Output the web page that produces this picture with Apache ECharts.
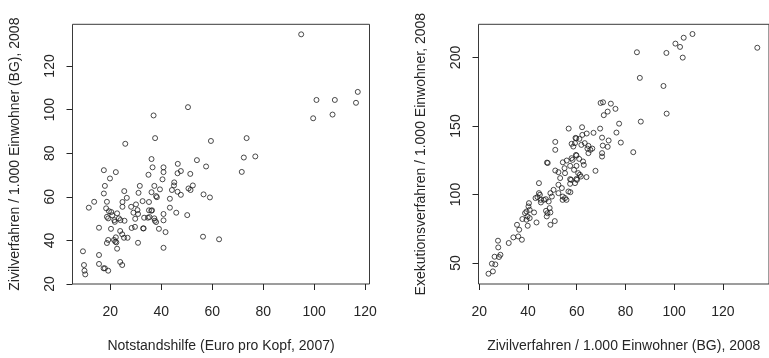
<!DOCTYPE html>
<html>
<head>
<meta charset="utf-8">
<script src="https://cdn.jsdelivr.net/npm/echarts@6/dist/echarts.min.js"></script>
<style>
  html, body { margin: 0; padding: 0; background: #ffffff; }
  #chart { width: 769px; height: 358px; }
</style>
</head>
<body>
<div id="chart"></div>
<script>
// Left panel: Notstandshilfe (Euro pro Kopf, 2007) vs. Zivilverfahren / 1.000 Einwohner (BG), 2008
const notstandshilfe = [94.9,37.0,50.5,25.9,37.6,59.5,73.5,100.9,108.1,117.1,
  116.4,99.6,107.2,72.4,76.9,71.6,36.2,36.6,40.9,40.9,
  46.5,47.7,46.4,54.0,57.6,51.4,35.0,40.5,17.5,22.2,
  19.9,17.9,31.6,37.3,45.1,45.0,52.4,50.7,51.5,39.5,
  44.2,46.4,47.7,56.6,59.1,17.5,25.5,31.1,36.2,38.0,
  38.3,43.4,13.7,11.6,18.7,24.8,24.8,26.5,30.1,32.7,
  35.2,28.2,30.7,35.2,36.4,29.1,30.9,29.8,33.3,34.8,
  35.4,37.3,38.0,39.1,41.7,40.9,40.9,43.4,45.9,50.2,
  56.4,62.7,40.9,33.1,29.7,28.4,30.9,26.8,25.4,22.2,
  22.0,22.7,18.7,19.2,15.6,9.3,9.7,9.9,10.2,15.6,
  15.6,17.4,17.9,19.2,23.9,24.7,18.4,19.5,20.4,18.7,
  19.2,20.8,21.6,21.8,23.4,24.0,25.6,22.7,20.3,23.9,
  24.7,21.5,22.4,32.9,36.1,37.5];
const zivilverfahrenLeft = [134.5,97.3,101.1,84.3,86.9,85.6,86.9,104.4,104.4,108.1,
  103.1,96.0,97.7,78.0,78.5,71.4,77.3,73.5,73.5,71.3,
  75.1,71.8,70.8,76.8,73.9,70.5,70.1,68.0,72.2,71.3,
  68.4,65.0,65.0,65.0,66.6,65.2,65.2,63.8,63.1,63.4,
  63.1,62.3,60.9,61.1,59.7,61.5,62.6,61.8,62.1,60.3,
  59.8,59.1,57.7,55.0,57.7,57.6,55.4,59.5,56.5,58.0,
  57.6,55.4,53.9,53.8,53.8,52.7,52.1,49.9,50.4,50.4,
  50.7,50.1,48.4,45.3,43.8,49.2,52.1,55.0,52.7,51.6,
  41.7,40.5,36.6,45.5,46.2,45.7,38.9,41.2,41.2,41.4,
  39.4,36.2,38.8,40.2,45.8,35.0,28.7,26.1,24.4,33.3,
  29.2,27.2,27.2,26.1,30.1,28.7,54.7,53.4,53.0,50.8,
  50.1,51.5,49.3,48.5,50.1,49.3,49.0,52.4,45.3,44.3,
  42.8,40.2,39.1,45.5,53.6,49.0];

// Right panel: Zivilverfahren vs. Exekutionsverfahren / 1.000 Einwohner, 2008
const zivilverfahrenRight = [134.1,107.5,103.9,100.5,102.4,103.5,96.8,84.7,85.9,95.6,
  96.9,86.3,69.8,70.8,74.0,75.9,72.7,71.1,77.4,76.3,
  78.1,69.6,66.9,64.1,62.2,56.7,70.4,73.1,72.7,70.7,
  62.3,61.1,59.5,59.8,57.9,51.2,64.8,83.2,70.4,70.4,
  67.7,61.9,63.3,64.4,65.6,66.4,64.8,59.3,58.6,59.7,
  59.9,57.9,55.9,61.0,62.6,62.9,59.9,58.9,57.3,61.7,
  60.1,64.0,57.3,57.3,56.6,53.2,52.5,53.9,54.3,55.2,
  51.2,47.8,48.1,44.5,51.2,52.5,54.3,55.2,55.0,58.3,
  60.6,61.3,59.9,57.7,57.4,59.3,52.5,
  55.8,54.2,49.8,49.2,50.5,48.5,48.9,47.4,49.2,49.2,51.0,
  44.5,44.9,45.2,46.5,43.1,43.9,40.4,40.2,40.7,39.4,
  42.5,43.5,38.8,39.8,40.7,39.4,39.9,37.7,35.5,36.4,
  36.0,37.5,34.0,32.1,27.7,27.8,28.7,28.1,26.3,26.6,
  25.2,25.6,23.8,
  45.3,47.3,48.0,47.7];
const exekutionsverfahren = [207.1,217.1,214.4,210.1,207.7,199.9,203.3,203.8,185.1,179.2,
  159.0,153.2,166.8,167.3,166.3,162.5,160.5,157.9,151.7,145.2,
  137.9,148.1,145.0,144.5,149.1,148.1,141.5,139.4,134.8,135.7,
  143.5,140.6,141.3,141.0,137.0,138.4,135.5,130.9,127.7,130.2,
  117.3,136.2,137.5,133.5,132.6,133.5,130.2,137.5,135.0,128.9,
  128.4,126.5,124.8,126.0,124.1,121.6,120.9,118.0,120.9,113.1,
  110.7,112.7,111.2,107.8,102.2,112.0,107.1,104.7,98.5,97.4,
  132.6,123.3,123.0,108.3,117.5,116.3,123.5,115.6,119.2,125.3,
  115.6,114.4,111.4,110.7,101.7,108.3,101.0,
  96.1,96.1,98.5,101.0,103.4,94.9,90.1,88.1,86.9,77.9,80.6,
  101.0,99.8,96.1,96.1,97.4,98.1,93.7,91.3,88.8,87.6,
  86.9,79.6,86.4,84.0,82.8,81.6,77.2,82.1,77.9,74.3,
  69.4,67.0,68.7,64.6,66.3,61.4,56.0,54.4,54.6,49.0,
  49.5,43.9,42.2,
  94.2,96.6,86.4,84.0];

// Tick values
const leftXTicks = [20, 40, 60, 80, 100, 120];
const leftYTicks = [20, 40, 60, 80, 100, 120];
const rightXTicks = [20, 40, 60, 80, 100, 120];
const rightYTicks = [50, 100, 150, 200];

// Axis titles
const leftXTitle = 'Notstandshilfe (Euro pro Kopf, 2007)';
const leftYTitle = 'Zivilverfahren / 1.000 Einwohner (BG), 2008';
const rightXTitle = 'Zivilverfahren / 1.000 Einwohner (BG), 2008';
const rightYTitle = 'Exekutionsverfahren / 1.000 Einwohner, 2008';

const zip = (a, b) => a.map((v, i) => [v, b[i]]);

const FONT = "'Liberation Sans', Arial, sans-serif";
const INK = '#262626';
const textStyle = { fontFamily: FONT, fontSize: 14, color: INK };

function valueAxis(gridIndex, min, max, ticks, opts) {
  return Object.assign({
    type: 'value',
    gridIndex: gridIndex,
    min: min,
    max: max,
    axisLine: { show: false },
    axisTick: { show: true, inside: false, length: 6, customValues: ticks,
                lineStyle: { color: INK, width: 1 } },
    axisLabel: Object.assign({ customValues: ticks }, textStyle),
    splitLine: { show: false },
    nameLocation: 'middle',
    nameTextStyle: textStyle
  }, opts);
}

const pointStyle = {
  color: 'rgba(0,0,0,0)',
  borderColor: '#1e1e1e',
  borderWidth: 1
};

const chart = echarts.init(document.getElementById('chart'), null, { renderer: 'canvas' });
chart.setOption({
  animation: false,
  backgroundColor: '#ffffff',
  grid: [
    { left: 72.5, top: 24.3, width: 297, height: 260, show: true,
      borderColor: '#3a3a3a', borderWidth: 1, backgroundColor: 'transparent' },
    { left: 478.5, top: 24.3, width: 296, height: 260, show: true,
      borderColor: '#3a3a3a', borderWidth: 1, backgroundColor: 'transparent' }
  ],
  xAxis: [
    valueAxis(0, 5.2, 121.7, leftXTicks, {
      name: leftXTitle, nameGap: 55,
      axisLabel: Object.assign({ customValues: leftXTicks, margin: 21 }, textStyle)
    }),
    valueAxis(1, 19.7, 138.9, rightXTicks, {
      name: rightXTitle, nameGap: 55,
      axisLabel: Object.assign({ customValues: rightXTicks, margin: 21 }, textStyle)
    })
  ],
  yAxis: [
    valueAxis(0, 20, 139.1, leftYTicks, {
      name: leftYTitle, nameGap: 50,
      axisLabel: Object.assign({ customValues: leftYTicks, rotate: 90, margin: 15 }, textStyle)
    }),
    valueAxis(1, 34.7, 224.2, rightYTicks, {
      name: rightYTitle, nameGap: 50,
      axisLabel: Object.assign({ customValues: rightYTicks, rotate: 90, margin: 15 }, textStyle)
    })
  ],
  series: [
    { type: 'scatter', xAxisIndex: 0, yAxisIndex: 0, silent: true,
      symbol: 'circle', symbolSize: 5, itemStyle: pointStyle,
      data: zip(notstandshilfe, zivilverfahrenLeft) },
    { type: 'scatter', xAxisIndex: 1, yAxisIndex: 1, silent: true,
      symbol: 'circle', symbolSize: 5, itemStyle: pointStyle,
      data: zip(zivilverfahrenRight, exekutionsverfahren) }
  ]
});
</script>
</body>
</html>
